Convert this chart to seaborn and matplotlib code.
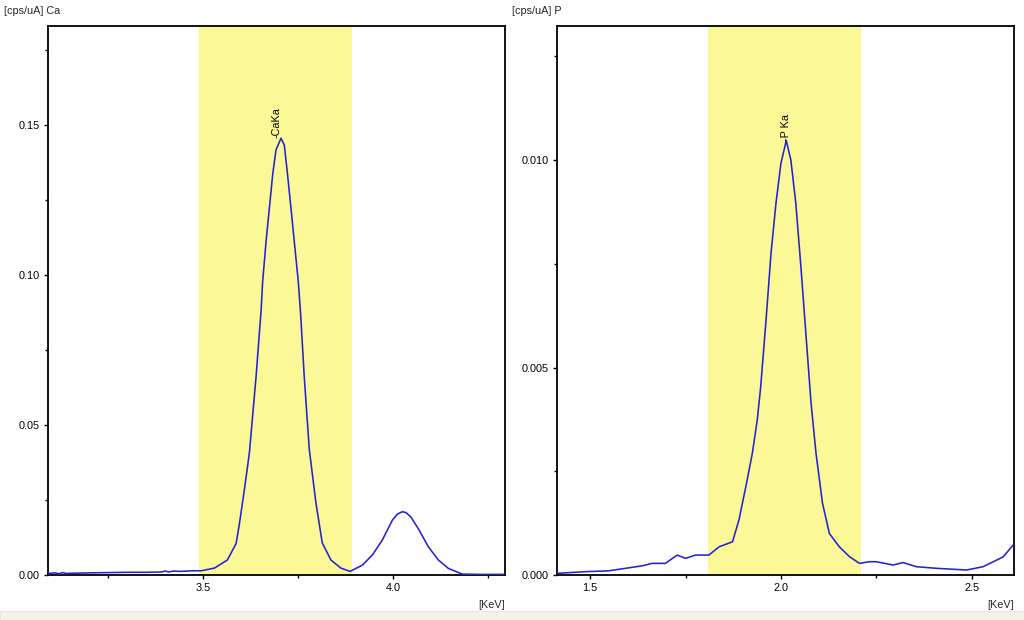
import matplotlib
matplotlib.use("Agg")
import matplotlib.pyplot as plt
import seaborn as sns
import pandas as pd
from matplotlib.patches import Rectangle

# ---- data ----
ca_energy = [3.091, 3.11, 3.12, 3.13, 3.14, 3.16, 3.20, 3.25, 3.30, 3.35, 3.39, 3.40,
             3.41, 3.42, 3.44, 3.47, 3.4945, 3.5294, 3.5635, 3.5864, 3.5950, 3.6081,
             3.6213, 3.6388, 3.6520, 3.6562, 3.6651, 3.6738, 3.6824, 3.6913, 3.7045,
             3.7131, 3.7218, 3.7307, 3.7394, 3.7499, 3.7560, 3.7656, 3.7787, 3.7963,
             3.8129, 3.8357, 3.8619, 3.8860, 3.9186, 3.9449, 3.9711, 3.9974, 4.0105,
             4.0236, 4.0330, 4.0457, 4.0675, 4.0919, 4.1182, 4.1444, 4.1811, 4.2236,
             4.293]
ca_counts = [0.0005, 0.0007, 0.0004, 0.0008, 0.0005, 0.0006, 0.0007, 0.0008, 0.0009,
             0.0009, 0.0010, 0.0013, 0.0010, 0.0013, 0.0012, 0.0014, 0.0014, 0.0023,
             0.0050, 0.0105, 0.0170, 0.0284, 0.0407, 0.0660, 0.0880, 0.0978, 0.1111,
             0.1222, 0.1333, 0.1417, 0.1456, 0.1433, 0.1333, 0.1222, 0.1111, 0.0978,
             0.0870, 0.0660, 0.0420, 0.0240, 0.0107, 0.0050, 0.0023, 0.0012, 0.0033,
             0.0067, 0.0117, 0.0183, 0.0203, 0.0211, 0.0208, 0.0194, 0.0150, 0.0094,
             0.0050, 0.0022, 0.0003, 0.0002, 0.0002]

p_energy = [1.413, 1.487, 1.548, 1.592, 1.636, 1.662, 1.697, 1.728, 1.750, 1.776, 1.811,
            1.838, 1.873, 1.890, 1.908, 1.925, 1.938, 1.947, 1.961, 1.974, 1.987, 2.000,
            2.014, 2.026, 2.039, 2.053, 2.066, 2.079, 2.092, 2.109, 2.127, 2.153, 2.180,
            2.206, 2.232, 2.250, 2.294, 2.320, 2.355, 2.408, 2.487, 2.530, 2.557, 2.583,
            2.605, 2.611]
p_counts = [0.00004, 0.00008, 0.00010, 0.00016, 0.00022, 0.00028, 0.00028, 0.00048,
            0.00040, 0.00048, 0.00048, 0.00068, 0.00080, 0.00133, 0.00213, 0.00293,
            0.00374, 0.00454, 0.00615, 0.00775, 0.00896, 0.00992, 0.01047, 0.01000,
            0.00896, 0.00735, 0.00574, 0.00414, 0.00293, 0.00173, 0.00100, 0.00068,
            0.00044, 0.00028, 0.00032, 0.00032, 0.00024, 0.00030, 0.00020, 0.00016,
            0.00012, 0.00020, 0.00032, 0.00044, 0.00068, 0.00075]

ca_roi = [3.488, 3.890]
p_roi = [1.809, 2.210]
ca_peak = [3.7045, 0.1456, "-CaKa"]
p_peak = [2.014, 0.01047, "-P Ka"]

ca_xticks = [3.5, 4.0]
ca_xticklabels = ["3.5", "4.0"]
ca_xminor = [3.25, 3.75, 4.25]
ca_yticks = [0.0, 0.05, 0.10, 0.15]
ca_yticklabels = ["0.00", "0.05", "0.10", "0.15"]
ca_yminor = [0.025, 0.075, 0.125, 0.175]

p_xticks = [1.5, 2.0, 2.5]
p_xticklabels = ["1.5", "2.0", "2.5"]
p_xminor = [1.75, 2.25]
p_yticks = [0.0, 0.005, 0.010]
p_yticklabels = ["0.000", "0.005", "0.010"]
p_yminor = [0.0025, 0.0075, 0.0125]

# ---- styling ----
sns.set_theme(style="white")
plt.rcParams["font.family"] = ["Liberation Sans", "DejaVu Sans"]
plt.rcParams["font.size"] = 7.8

line_color = "#2323d2"
band_color = "#fbf897"
fs = 7.8

fig = plt.figure(figsize=(10.24, 6.2), dpi=100)
fig.patch.set_facecolor("white")
# light strip at bottom of the window
fig.patches.append(Rectangle((0, 0), 1, 0.015, transform=fig.transFigure,
                             facecolor="#f5f3e8", edgecolor="#ece8d6", lw=0.8, zorder=-1))

ax1 = fig.add_axes([0.0466, 0.0726, 0.4464, 0.8855])
ax2 = fig.add_axes([0.5440, 0.0726, 0.4462, 0.8855])

panels = [
    (ax1, ca_energy, ca_counts, ca_roi, ca_peak, -0.013, (3.091, 4.293), (0, 0.183),
     ca_xticks, ca_xticklabels, ca_xminor, ca_yticks, ca_yticklabels, ca_yminor),
    (ax2, p_energy, p_counts, p_roi, p_peak, -0.002, (1.413, 2.611), (0, 0.01323),
     p_xticks, p_xticklabels, p_xminor, p_yticks, p_yticklabels, p_yminor),
]

for (ax, ex, cy, roi, peak, dx, xl, yl, xt, xtl, xmn, yt, ytl, ymn) in panels:
    ax.set_facecolor("white")
    ax.axvspan(roi[0], roi[1], color=band_color, lw=0, zorder=0)
    df = pd.DataFrame({"energy": ex, "counts": cy})
    sns.lineplot(data=df, x="energy", y="counts", ax=ax, color=line_color,
                 lw=1.15, sort=False, zorder=3)
    ax.text(peak[0] + dx, peak[1], peak[2], rotation=90,
            ha="center", va="bottom", fontsize=fs, color="black", zorder=4)
    ax.set_xlim(*xl)
    ax.set_ylim(*yl)
    ax.set_xticks(xt)
    ax.set_xticklabels(xtl)
    ax.set_xticks(xmn, minor=True)
    ax.set_yticks(yt)
    ax.set_yticklabels(ytl)
    ax.set_yticks(ymn, minor=True)
    ax.tick_params(which="both", direction="out", color="black", labelsize=fs,
                   labelcolor="black", bottom=True, left=True)
    ax.tick_params(which="major", length=3, width=1, pad=3)
    ax.tick_params(which="minor", length=2.5, width=1)
    ax.set_xlabel("")
    ax.set_ylabel("")
    for s in ax.spines.values():
        s.set_visible(True)
        s.set_color("black")
        s.set_linewidth(1.3)

fig.text(0.004, 0.982, "[cps/uA] Ca", ha="left", va="center", fontsize=fs)
fig.text(0.500, 0.982, "[cps/uA] P", ha="left", va="center", fontsize=fs)
fig.text(0.493, 0.024, "[KeV]", ha="right", va="center", fontsize=fs)
fig.text(0.990, 0.024, "[KeV]", ha="right", va="center", fontsize=fs)

fig.savefig("out.png", dpi=100, facecolor=fig.get_facecolor())
